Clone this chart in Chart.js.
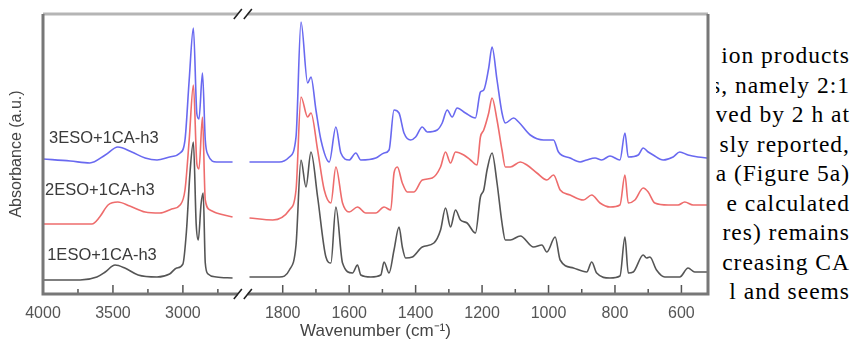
<!DOCTYPE html>
<html>
<head>
<meta charset="utf-8">
<script src="https://cdn.jsdelivr.net/npm/chart.js@4.4.1/dist/chart.umd.min.js"></script>
<style>
  html, body { margin: 0; padding: 0; background: #fff; }
  #wrap { position: relative; width: 856px; height: 345px; overflow: hidden; }
  #ftir { position: absolute; left: 0; top: 0; filter: blur(0.5px); }
  #side { position: absolute; left: 716px; top: 41px; width: 134px; overflow: hidden;
          font-family: "Liberation Serif", serif; font-size: 23.5px; line-height: 29.5px;
          letter-spacing: 1px; color: #000; }
  #side div { white-space: nowrap; direction: rtl; text-align: right; }
  #side span { direction: ltr; unicode-bidi: embed; }
</style>
</head>
<body>
<div id="wrap">
  <canvas id="ftir" width="714" height="345"></canvas>
  <div id="side"></div>
</div>
<script>
// FTIR spectra, [wavenumber cm-1, absorbance a.u.]; each one split at the axis break
const blueLeft = [[4000,1.35],[3805,1.33],[3665,1.31],[3555,1.39],[3465,1.47],[3365,1.42],[3270,1.36],
  [3185,1.34],[3095,1.37],[3020,1.41],[2985,1.54],[2955,2.14],[2925,2.66],[2900,1.80],[2885,1.75],
  [2860,2.21],[2840,1.54],[2820,1.39],[2760,1.32],[2645,1.32]];
const blueRight = [[1900,1.32],[1810,1.32],[1780,1.37],[1760,1.57],[1745,2.72],[1725,2.11],[1715,2.17],
  [1700,1.84],[1685,1.54],[1660,1.32],[1640,1.67],[1625,1.41],[1600,1.34],[1580,1.41],[1565,1.34],
  [1520,1.36],[1495,1.41],[1480,1.44],[1465,1.84],[1450,1.81],[1435,1.61],[1415,1.54],[1400,1.57],
  [1380,1.67],[1365,1.62],[1335,1.64],[1320,1.71],[1305,1.84],[1290,1.77],[1275,1.86],[1250,1.81],
  [1220,1.76],[1205,2.02],[1195,2.04],[1180,2.26],[1170,2.47],[1155,2.14],[1140,1.81],[1130,1.71],
  [1105,1.76],[1090,1.72],[1055,1.59],[1015,1.54],[985,1.54],[970,1.42],[935,1.36],[905,1.32],
  [885,1.34],[860,1.36],[840,1.34],[815,1.38],[785,1.34],[770,1.61],[760,1.37],[730,1.39],[715,1.46],
  [700,1.42],[685,1.39],[655,1.34],[625,1.37],[605,1.42],[580,1.39],[550,1.37],[520,1.36]];

const redLeft = [[4000,0.70],[3650,0.70],[3595,0.77],[3535,0.89],[3465,0.92],[3380,0.88],[3270,0.82],
  [3165,0.81],[3080,0.85],[3020,0.89],[2985,1.04],[2955,1.54],[2925,2.09],[2900,1.30],[2885,1.25],
  [2860,1.77],[2840,0.94],[2805,0.84],[2760,0.81],[2645,0.77]];
const redRight = [[1900,0.76],[1830,0.74],[1780,0.84],[1760,1.04],[1745,1.97],[1725,1.77],[1715,1.81],
  [1695,1.44],[1675,1.04],[1655,0.91],[1640,1.27],[1620,0.91],[1600,0.82],[1575,0.87],[1550,0.81],
  [1520,0.81],[1495,0.87],[1475,0.84],[1465,1.21],[1455,1.27],[1440,1.11],[1425,1.02],[1405,1.02],
  [1380,1.14],[1350,1.16],[1325,1.27],[1310,1.42],[1295,1.31],[1280,1.42],[1255,1.39],[1235,1.34],
  [1215,1.29],[1205,1.57],[1195,1.64],[1180,1.81],[1170,1.96],[1155,1.74],[1140,1.44],[1130,1.27],
  [1115,1.27],[1085,1.32],[1065,1.29],[1035,1.21],[1005,1.14],[985,1.19],[965,1.04],[935,0.99],
  [895,0.94],[870,0.99],[845,0.91],[815,0.87],[785,0.89],[770,1.19],[760,0.91],[740,0.94],[715,1.06],
  [700,1.02],[680,0.91],[640,0.89],[610,0.89],[590,0.92],[565,0.89],[520,0.89]];

const blackLeft = [[4000,0.14],[3735,0.14],[3615,0.17],[3555,0.22],[3485,0.29],[3415,0.26],[3320,0.19],
  [3185,0.17],[3095,0.20],[3045,0.26],[3000,0.30],[2975,0.62],[2950,1.20],[2925,1.52],[2905,0.70],
  [2890,0.54],[2870,0.90],[2855,1.01],[2840,0.31],[2820,0.20],[2760,0.17],[2645,0.16]];
const blackRight = [[1900,0.17],[1810,0.17],[1780,0.24],[1760,0.49],[1745,1.34],[1730,1.07],[1715,1.42],
  [1695,0.97],[1670,0.37],[1655,0.31],[1640,0.87],[1620,0.31],[1590,0.21],[1575,0.29],[1565,0.19],
  [1535,0.17],[1505,0.19],[1495,0.32],[1480,0.21],[1465,0.44],[1450,0.67],[1440,0.47],[1430,0.36],
  [1410,0.37],[1380,0.47],[1345,0.51],[1325,0.64],[1310,0.86],[1295,0.67],[1280,0.84],[1265,0.74],
  [1245,0.71],[1220,0.61],[1205,0.97],[1195,1.04],[1185,1.24],[1170,1.41],[1155,1.11],[1140,0.71],
  [1130,0.54],[1115,0.54],[1085,0.58],[1045,0.47],[1020,0.49],[1005,0.42],[980,0.57],[965,0.34],
  [925,0.26],[885,0.22],[870,0.32],[855,0.21],[815,0.16],[785,0.18],[770,0.57],[760,0.21],[745,0.22],
  [715,0.39],[705,0.36],[695,0.37],[675,0.24],[650,0.17],[605,0.17],[580,0.26],[560,0.22],[520,0.22]];

const seriesNames = ['3ESO+1CA-h3', '2ESO+1CA-h3', '1ESO+1CA-h3'];
const seriesColors = ['rgb(105,105,240)', 'rgb(238,108,108)', 'rgb(85,85,85)'];
// where each name is written: [wavenumber, absorbance]
const nameAt = [[3957, 1.56], [3985, 1.04], [3970, 0.39]];

const tickWaves = [4000, 3500, 3000, 1800, 1600, 1400, 1200, 1000, 800, 600];
const minorWaves = [3750, 3250, 2750, 1700, 1500, 1300, 1100, 900, 700];

const sideLines = ['ion products', 's, namely 2:1', 'ved by 2 h at', 'sly reported,', 'a (Figure 5a)',
  'e calculated', 'res) remains', 'creasing CA', 'l and seems'];

// broken x axis: 4000-2550 squeezed on the left, 1911-520 on the right
const K_LEFT = 0.14, K_RIGHT = 0.3325;
const BREAK_HI = 2550, BREAK_LO = 1911;
function brk(w) {
  return w > BREAK_LO ? (4000 - w) * K_LEFT
                      : (4000 - BREAK_HI) * K_LEFT + (BREAK_LO - w) * K_RIGHT;
}
function toPoints(left, right) {
  const pts = left.map(([w, a]) => ({x: brk(w), y: a}));
  pts.push({x: brk(BREAK_HI), y: null});
  return pts.concat(right.map(([w, a]) => ({x: brk(w), y: a})));
}

// column of text cut off on its left side, lines flush right
const side = document.getElementById('side');
sideLines.forEach(t => {
  const d = document.createElement('div');
  const s = document.createElement('span');
  s.textContent = t;
  d.appendChild(s);
  side.appendChild(d);
});

const axisFrame = {
  id: 'axisFrame',
  afterDatasetsDraw(chart) {
    const {ctx, chartArea: a, scales: {x, y}} = chart;
    ctx.save();
    // tick marks point into the plot
    ctx.strokeStyle = '#555';
    ctx.lineWidth = 1.5;
    ctx.beginPath();
    tickWaves.forEach(w => {
      const px = x.getPixelForValue(brk(w));
      ctx.moveTo(px, a.bottom); ctx.lineTo(px, a.bottom - 9);
    });
    minorWaves.forEach(w => {
      const px = x.getPixelForValue(brk(w));
      ctx.moveTo(px, a.bottom); ctx.lineTo(px, a.bottom - 5);
    });
    ctx.stroke();

    ctx.lineWidth = 3;
    ctx.strokeStyle = '#b5b5b5';
    ctx.beginPath();
    ctx.moveTo(a.left, a.top); ctx.lineTo(a.right, a.top);
    ctx.stroke();
    ctx.strokeStyle = '#777';
    ctx.beginPath();
    ctx.moveTo(a.left, a.top); ctx.lineTo(a.left, a.bottom);
    ctx.lineTo(a.right, a.bottom); ctx.lineTo(a.right, a.top);
    ctx.stroke();

    // axis break: open the box and put two slashes on each edge
    const bx = x.getPixelForValue(brk(BREAK_HI)) - 3;
    [a.top, a.bottom].forEach(ey => {
      ctx.fillStyle = '#fff';
      ctx.fillRect(bx - 5, ey - 3, 10, 6);
      ctx.beginPath();
      [-5, 5].forEach(dx => {
        ctx.moveTo(bx + dx - 4, ey + 5); ctx.lineTo(bx + dx + 4, ey - 5);
      });
      ctx.strokeStyle = '#222';
      ctx.lineWidth = 1.6;
      ctx.stroke();
    });

    ctx.fillStyle = '#3a3a3a';
    ctx.font = '16.5px "Liberation Sans", Arial, sans-serif';
    ctx.textAlign = 'left';
    ctx.textBaseline = 'middle';
    seriesNames.forEach((n, i) => {
      ctx.fillText(n, x.getPixelForValue(brk(nameAt[i][0])), y.getPixelForValue(nameAt[i][1]));
    });
    ctx.restore();
  }
};

Chart.defaults.font.family = '"Liberation Sans", Arial, sans-serif';

new Chart(document.getElementById('ftir'), {
  type: 'line',
  data: {
    datasets: [
      {label: seriesNames[0], data: toPoints(blueLeft, blueRight), borderColor: seriesColors[0]},
      {label: seriesNames[1], data: toPoints(redLeft, redRight), borderColor: seriesColors[1]},
      {label: seriesNames[2], data: toPoints(blackLeft, blackRight), borderColor: seriesColors[2]}
    ]
  },
  options: {
    responsive: false,
    animation: false,
    devicePixelRatio: 1,
    datasets: {
      line: {borderWidth: 1.6, pointRadius: 0, cubicInterpolationMode: 'monotone', spanGaps: false}
    },
    layout: {padding: {left: 0, top: 14, right: 6, bottom: 0}},
    plugins: {legend: {display: false}, tooltip: {enabled: false}},
    scales: {
      x: {
        type: 'linear',
        min: 0,
        max: brk(520),
        afterBuildTicks: s => { s.ticks = tickWaves.map(w => ({value: brk(w)})); },
        afterFit: s => { s.height = 51; },
        grid: {display: false, drawTicks: false},
        border: {display: false},
        ticks: {
          autoSkip: false, maxRotation: 0, padding: 10, color: '#555',
          font: {size: 16},
          callback: (v, i) => tickWaves[i]
        },
        title: {
          display: true, text: 'Wavenumber (cm\u207B\u00B9)', color: '#444',
          font: {size: 17}, padding: {top: 0, bottom: 3}
        }
      },
      y: {
        min: 0,
        max: 2.8,
        afterFit: s => { s.width = 43; },
        grid: {display: false, drawTicks: false},
        border: {display: false},
        ticks: {display: false},
        title: {
          display: true, text: 'Absorbance (a.u.)', color: '#444',
          font: {size: 16}, padding: {top: 7, bottom: 0}
        }
      }
    }
  },
  plugins: [axisFrame]
});
</script>
</body>
</html>
